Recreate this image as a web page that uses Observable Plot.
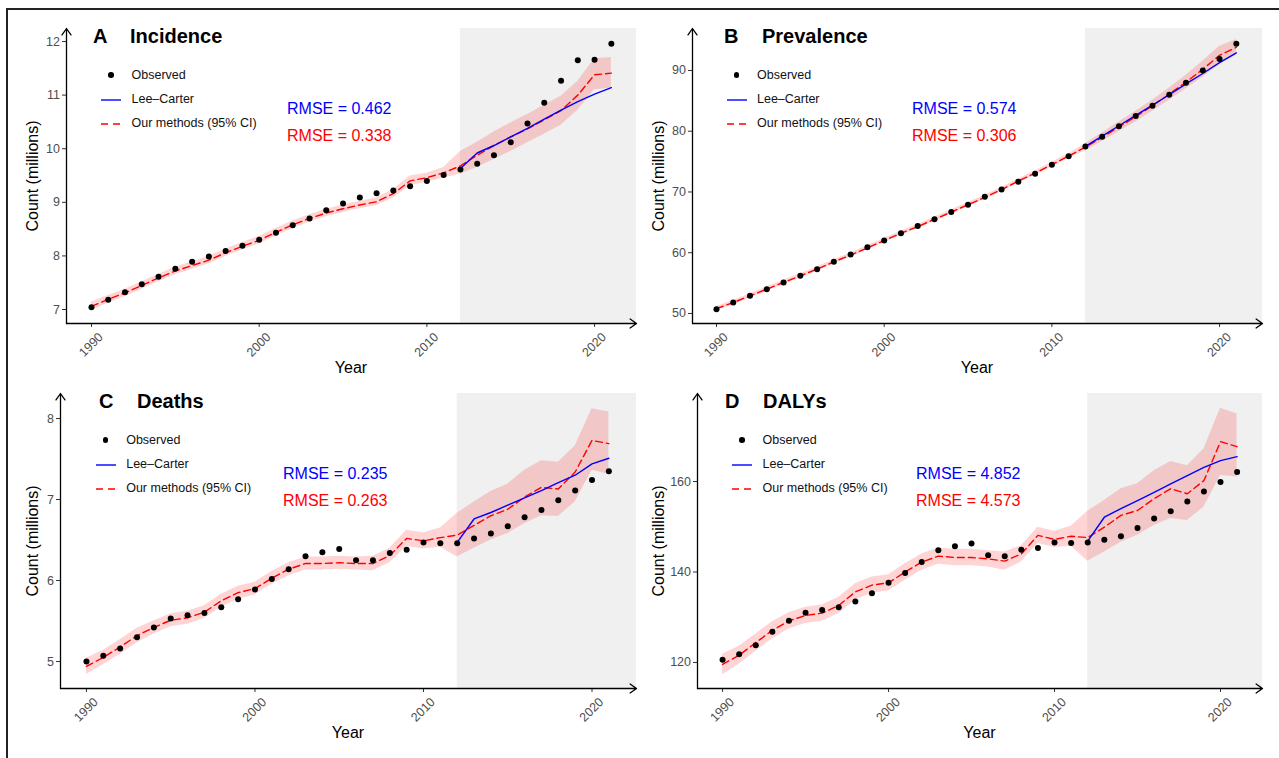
<!DOCTYPE html>
<html><head><meta charset="utf-8">
<script src="https://cdn.jsdelivr.net/npm/d3@7"></script>
<script src="https://cdn.jsdelivr.net/npm/@observablehq/plot@0.6"></script>
<style>
body{margin:0;background:#fff;overflow:hidden;font-family:"Liberation Sans",Arial,Helvetica,sans-serif;}
#root{position:relative;width:1279px;height:758px;overflow:hidden;background:#fff;}
.frame{position:absolute;left:6px;top:8px;width:1400px;height:900px;border:2px solid #222;box-sizing:border-box;}
.abs{position:absolute;white-space:nowrap;}
.panel{position:absolute;}
.panel svg text{font-size:12.5px;}
</style></head><body><div id="root"><div class="frame"></div></div>
<script>
// ---------------- DATA ----------------
const years = [1990,1991,1992,1993,1994,1995,1996,1997,1998,1999,2000,2001,2002,2003,2004,2005,2006,2007,2008,2009,2010,2011,2012,2013,2014,2015,2016,2017,2018,2019,2020,2021];
const forecastYears = [2012,2013,2014,2015,2016,2017,2018,2019,2020,2021];
const forecastStart = 2012;
const xTicks = [1990,2000,2010,2020];

const panelLetters = ["A","B","C","D"];
const panelTitles = ["Incidence","Prevalence","Deaths","DALYs"];
const legendLabels = ["Observed","Lee\u2013Carter","Our methods (95% CI)"];
const rmseLeeCarter = ["0.462","0.574","0.235","4.852"];
const rmseOurs = ["0.338","0.306","0.263","4.573"];
const xLabel = "Year";
const yLabel = "Count (millions)";

// A: Incidence
const obsA = [7.04,7.18,7.32,7.47,7.61,7.76,7.89,7.99,8.09,8.19,8.30,8.43,8.57,8.70,8.85,8.98,9.09,9.17,9.22,9.30,9.40,9.51,9.61,9.72,9.88,10.12,10.47,10.86,11.27,11.65,11.66,11.96];
const fitA = [7.06,7.19,7.31,7.45,7.59,7.72,7.82,7.92,8.06,8.18,8.29,8.44,8.58,8.70,8.80,8.88,8.95,9.01,9.16,9.40,9.46,9.55,9.68,9.88,10.06,10.22,10.37,10.54,10.71,11.00,11.38,11.41];
const lowA = [6.98,7.12,7.24,7.38,7.52,7.65,7.75,7.85,7.99,8.11,8.22,8.37,8.51,8.63,8.73,8.81,8.88,8.94,9.08,9.31,9.38,9.45,9.53,9.65,9.80,9.95,10.11,10.27,10.44,10.72,11.10,11.13];
const highA = [7.14,7.26,7.38,7.52,7.66,7.79,7.89,7.99,8.13,8.25,8.36,8.51,8.65,8.77,8.87,8.95,9.02,9.08,9.24,9.49,9.54,9.65,9.95,10.12,10.31,10.48,10.64,10.81,10.98,11.26,11.68,11.70];
const lcA = [9.63,9.92,10.06,10.22,10.38,10.55,10.72,10.88,11.02,11.14];
const yTicksA = [7,8,9,10,11,12];

// B: Prevalence
const obsB = [50.7,51.8,52.9,54.0,55.1,56.2,57.3,58.5,59.7,60.9,62.0,63.2,64.4,65.5,66.7,67.9,69.2,70.4,71.7,73.0,74.5,75.9,77.5,79.1,80.8,82.5,84.2,86.0,88.0,90.0,91.9,94.4];
const fitB = [50.8,51.8,52.9,54.0,55.1,56.2,57.3,58.5,59.6,60.8,62.0,63.2,64.3,65.5,66.7,67.9,69.1,70.4,71.8,73.1,74.5,75.9,77.4,79.0,80.7,82.4,84.2,86.1,88.1,90.2,92.5,93.8];
const lowB = [50.45,51.45,52.55,53.65,54.75,55.85,56.95,58.15,59.25,60.45,61.65,62.85,63.95,65.15,66.35,67.55,68.75,70.05,71.45,72.75,74.1,75.5,76.8,78.3,79.9,81.5,83.3,85.1,87.0,88.9,91.0,92.5];
const highB = [51.15,52.15,53.25,54.35,55.45,56.55,57.65,58.85,59.95,61.15,62.35,63.55,64.65,65.85,67.05,68.25,69.45,70.75,72.15,73.45,74.9,76.3,78.0,79.7,81.5,83.3,85.1,87.1,89.2,91.5,94.0,95.1];
const lcB = [77.5,79.2,80.9,82.6,84.3,86.0,87.8,89.5,91.3,92.9];
const yTicksB = [50,60,70,80,90];

// C: Deaths
const obsC = [5.00,5.07,5.16,5.30,5.42,5.53,5.57,5.60,5.67,5.77,5.89,6.02,6.14,6.30,6.35,6.39,6.25,6.25,6.34,6.38,6.47,6.46,6.46,6.52,6.58,6.67,6.78,6.87,6.99,7.11,7.24,7.35];
const fitC = [4.94,5.05,5.18,5.32,5.42,5.51,5.54,5.61,5.75,5.85,5.90,6.03,6.14,6.21,6.21,6.22,6.21,6.21,6.31,6.52,6.49,6.53,6.56,6.68,6.80,6.88,7.03,7.15,7.13,7.34,7.73,7.69];
const lowC = [4.84,4.96,5.09,5.23,5.34,5.43,5.46,5.53,5.67,5.77,5.82,5.95,6.06,6.13,6.13,6.14,6.13,6.12,6.22,6.42,6.39,6.41,6.29,6.40,6.50,6.58,6.70,6.80,6.79,6.97,7.36,7.31];
const highC = [5.04,5.14,5.27,5.41,5.50,5.59,5.62,5.69,5.83,5.93,5.98,6.11,6.22,6.29,6.29,6.30,6.29,6.30,6.40,6.62,6.59,6.65,6.83,6.97,7.10,7.19,7.36,7.48,7.46,7.66,8.12,8.08];
const lcC = [6.47,6.76,6.84,6.93,7.02,7.11,7.21,7.30,7.44,7.51];
const yTicksC = [5,6,7,8];

// D: DALYs
const obsD = [120.6,121.8,123.8,126.8,129.2,131.0,131.6,132.2,133.5,135.3,137.6,139.8,142.2,144.8,145.7,146.3,143.7,143.5,144.9,145.3,146.5,146.4,146.5,147.1,147.9,149.7,151.8,153.4,155.6,157.8,159.9,162.1];
const fitD = [119.6,121.6,124.4,127.1,129.2,130.4,130.9,132.6,135.6,137.1,137.6,140.0,142.2,143.5,143.2,143.2,142.9,142.4,144.0,148.1,147.2,147.9,147.6,149.9,152.5,153.6,156.2,158.4,157.3,160.2,168.8,167.7];
const lowD = [117.3,119.6,122.5,125.2,127.4,128.6,129.1,130.8,133.8,135.3,135.8,138.2,140.4,141.7,141.4,141.4,141.1,140.4,142.2,146.3,145.4,145.7,142.4,144.4,146.6,148.1,150.3,151.8,151.4,154.3,161.3,161.0];
const highD = [121.8,123.6,126.3,129.0,131.0,132.2,132.7,134.4,137.4,138.9,139.4,141.8,144.0,145.3,145.0,145.0,144.7,144.4,145.8,149.9,149.0,150.1,153.4,155.8,158.4,159.5,162.4,164.4,163.5,167.2,176.2,174.9];
const lcD = [146.8,152.1,154.0,155.8,157.6,159.5,161.3,163.1,164.6,165.5];
const yTicksD = [120,140,160];

// ---------------- LAYOUT ----------------
const FONT = "Liberation Sans, Arial, Helvetica, sans-serif";
const panels = [
  {obs:obsA, fit:fitA, lo:lowA, hi:highA, lc:lcA, yTicks:yTicksA,
   left:0, top:0, width:640, height:380, mL:66, mR:4, mT:28, mB:57,
   xDom:[1988.51,2022.5], yDom:[6.739,12.243],
   letterX:93, titleX:130, legX:111, rmseX:287, ylabX:33},
  {obs:obsB, fit:fitB, lo:lowB, hi:highB, lc:lcB, yTicks:yTicksB,
   left:640, top:0, width:639, height:380, mL:52, mR:17, mT:28, mB:57,
   xDom:[1988.57,2022.56], yDom:[48.35,96.91],
   letterX:724, titleX:762, legX:736.5, rmseX:912, ylabX:659},
  {obs:obsC, fit:fitC, lo:lowC, hi:highC, lc:lcC, yTicks:yTicksC,
   left:0, top:365, width:640, height:380, mL:60, mR:4, mT:28, mB:57,
   xDom:[1988.46,2022.64], yDom:[4.667,8.309],
   letterX:99, titleX:137, legX:105.7, rmseX:283, ylabX:33},
  {obs:obsD, fit:fitD, lo:lowD, hi:highD, lc:lcD, yTicks:yTicksD,
   left:640, top:365, width:639, height:380, mL:57, mR:17, mT:28, mB:57,
   xDom:[1988.49,2022.53], yDom:[114.25,179.45],
   letterX:725, titleX:763, legX:742, rmseX:916, ylabX:659}
];

const root = document.getElementById("root");

function txt(x, baseline, str, size, opts = {}) {
  const d = document.createElement("div");
  d.className = "abs";
  d.textContent = str;
  d.style.fontSize = size + "px";
  d.style.lineHeight = size + "px";
  d.style.left = x + "px";
  d.style.top = (baseline - 0.8465 * size) + "px";
  d.style.color = opts.color || "#000";
  if (opts.bold) d.style.fontWeight = "bold";
  if (opts.center) d.style.transform = "translateX(-50%)";
  root.appendChild(d);
  return d;
}

panels.forEach((p, k) => {
  const rows = years.map((y, i) => ({year: y, obs: p.obs[i], fit: p.fit[i], lo: p.lo[i], hi: p.hi[i]}));
  const lcRows = forecastYears.map((y, i) => ({year: y, v: p.lc[i]}));
  const axisStyle = {stroke: "#000", strokeWidth: 1.3, headLength: 9, headAngle: 70};
  const svg = Plot.plot({
    width: p.width, height: p.height,
    marginLeft: p.mL, marginRight: p.mR, marginTop: p.mT, marginBottom: p.mB,
    x: {domain: p.xDom, axis: null},
    y: {domain: p.yDom, axis: null},
    style: {fontFamily: FONT, fontSize: "12.5px", background: "transparent", overflow: "visible"},
    marks: [
      Plot.rect([0], {x1: forecastStart, x2: p.xDom[1], y1: p.yDom[0], y2: p.yDom[1], fill: "#f0f0f0"}),
      Plot.areaY(rows, {x: "year", y1: "lo", y2: "hi", fill: "#ff0000", fillOpacity: 0.17}),
      Plot.line(rows, {x: "year", y: "fit", stroke: "#ff0000", strokeWidth: 1.4, strokeDasharray: "7,4"}),
      Plot.line(lcRows, {x: "year", y: "v", stroke: "#0000ff", strokeWidth: 1.4}),
      Plot.dot(rows, {x: "year", y: "obs", r: 3, fill: "#000"}),
      Plot.axisY(p.yTicks, {tickSize: 4, tickPadding: 2.5, stroke: "#333", fill: "#4d4d4d", label: null,
        fontSize: 12.5, tickFormat: d => String(d)}),
      Plot.axisX(xTicks, {tickSize: 4, stroke: "#333", tickFormat: () => "", label: null}),
      Plot.text(xTicks, {x: d => d, text: d => String(d), frameAnchor: "bottom", rotate: -45,
        textAnchor: "end", lineAnchor: "top", dx: 6, dy: 8, fill: "#4d4d4d", fontSize: 12.5}),
      Plot.arrow([0], {x1: p.xDom[0], y1: p.yDom[0], x2: p.xDom[0], y2: p.yDom[1], ...axisStyle}),
      Plot.arrow([0], {x1: p.xDom[0], y1: p.yDom[0], x2: p.xDom[1], y2: p.yDom[0], ...axisStyle})
    ]
  });
  const wrap = document.createElement("div");
  wrap.className = "panel";
  wrap.style.left = p.left + "px";
  wrap.style.top = p.top + "px";
  wrap.appendChild(svg);
  root.appendChild(wrap);

  const oy = p.top;
  txt(p.letterX, 43 + oy, panelLetters[k], 20, {bold: true});
  txt(p.titleX, 43 + oy, panelTitles[k], 20, {bold: true});
  const rowsY = [75, 100, 124];
  const textBase = [79.5, 104, 128];
  legendLabels.forEach((lab, j) => {
    txt(p.legX + 20.5, textBase[j] + oy, lab, 12.5, {color: "#111"});
  });
  const dot = document.createElement("div");
  dot.className = "abs";
  Object.assign(dot.style, {left: (p.legX - 2.8) + "px", top: (rowsY[0] + oy - 2.8) + "px", width: "5.6px", height: "5.6px", borderRadius: "50%", background: "#000"});
  root.appendChild(dot);
  const sym = document.createElement("div");
  sym.className = "abs";
  sym.style.left = (p.legX - 11) + "px";
  sym.style.top = (rowsY[1] + oy - 2) + "px";
  sym.innerHTML = `<svg width="24" height="30" style="display:block">
    <line x1="1" x2="21" y1="2" y2="2" stroke="#0000ff" stroke-width="1.4"/>
    <line x1="1" x2="21" y1="26" y2="26" stroke="#ff0000" stroke-width="1.4" stroke-dasharray="7,5"/></svg>`;
  root.appendChild(sym);
  txt(p.rmseX, 115 + oy, "RMSE = " + rmseLeeCarter[k], 16, {color: "#0000ff"});
  txt(p.rmseX, 142 + oy, "RMSE = " + rmseOurs[k], 16, {color: "#ff0000"});
  const plotL = p.left + p.mL, plotR = p.left + p.width - p.mR;
  txt((plotL + plotR) / 2, 374 + oy, xLabel, 16, {center: true});
  const yl = document.createElement("div");
  yl.className = "abs";
  yl.textContent = yLabel;
  Object.assign(yl.style, {fontSize: "16px", lineHeight: "16px", left: p.ylabX + "px",
    top: (oy + p.mT + (p.height - p.mT - p.mB) / 2) + "px", transform: "translate(-50%,-50%) rotate(-90deg)", color: "#000"});
  root.appendChild(yl);
});
</script></body></html>
